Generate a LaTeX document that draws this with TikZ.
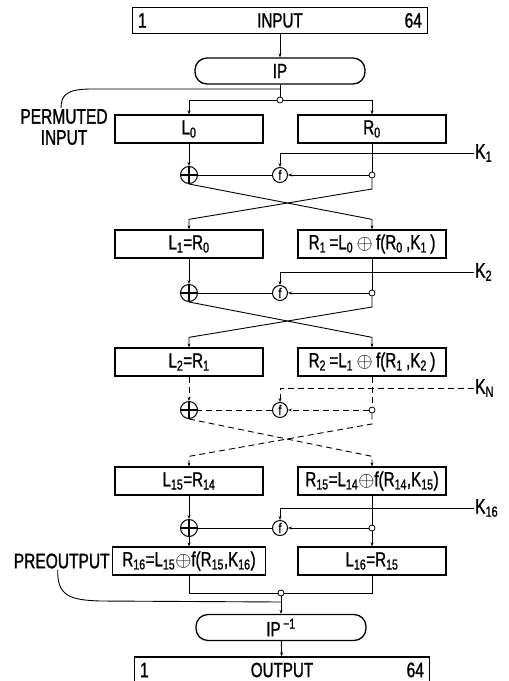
\documentclass[tikz,border=0pt]{standalone}
\usepackage{fontspec}
\setmainfont[FakeStretch=0.74,FakeBold=1.2]{Liberation Sans}
\usetikzlibrary{arrows.meta,calc,positioning}
\tikzset{
   every path/.style={>={Stealth[length=4pt,width=3pt]}},
   flow/.style={->,line width=0.9pt},
   wire/.style={line width=0.9pt},
   nflow/.style={->,line width=0.9pt,dash pattern=on 6pt off 4pt},
   nwire/.style={line width=0.9pt,dash pattern=on 6pt off 4pt},
}
\begin{document}
\begin{tikzpicture}[x=1pt,y=-1pt,
   lbl/.style={inner sep=1pt, font=\fontsize{21}{21}\selectfont},
   box/.style={rectangle, draw, line width=1.3pt, minimum width=148pt, minimum height=28pt, inner sep=0pt, font=\fontsize{20.5}{21}\selectfont},
   perm/.style={box, rounded corners=12pt, minimum width=170pt, minimum height=26pt},
   io/.style={box, minimum width=295pt, minimum height=26pt},
   xor/.style={circle, draw, line width=1pt, minimum size=17pt, inner sep=0pt},
   fn/.style={circle, draw, line width=1pt, minimum size=15pt, inner sep=0pt, font=\fontsize{14}{14}\selectfont},
   dot/.style={circle, draw, line width=0.8pt, minimum size=6pt, inner sep=0pt, fill=white}]
  \useasboundingbox (0,0) rectangle (509,681);

  % input and initial permutation
  \node [io] (input) at (280,20.5) {INPUT};
  \node [lbl, right=5pt of input.west] (in1) {1};
  \node [lbl, left=5pt of input.east] (in64) {64};
  \node [perm] (ip) at (280,71) {IP};
  \node [dot] (j0) at (280,100) {};
  \coordinate (pin) at (280,89);
  \node [lbl, align=center] (permin) at (64,127) {PERMUTED\\INPUT};

  \node [box] (l0) at (189,129) {L\textsubscript{0}};
  \node [box] (r0) at (372,129) {R\textsubscript{0}};

  \draw [flow] (input) -- (ip);
  \draw [wire] (ip) -- (j0);
  \draw [flow] (j0) -| (l0);
  \draw [flow] (j0) -| (r0);
  \draw [wire] ([xshift=-3pt]permin.north) .. controls (61,94) and (68,89) .. (92,89) -- (pin);

  % round 1
  \node [xor] (x1) at (189,175) {};
  \node [fn] (f1) at (280,175) {f};
  \node [dot] (d1) at (372,175) {};
  \node [lbl, anchor=west] (k1) at (474,153) {K\textsubscript{1}};
  \node [box] (l1) at (189,244) {L\textsubscript{1}=R\textsubscript{0}};
  \node [box] (r1) at (372,244) {R\textsubscript{1}\,=L\textsubscript{0}\,$\oplus$\,f(R\textsubscript{0}\,,K\textsubscript{1}\,)};
  \draw [flow] (l0) -- (x1);
  \draw [wire] (r0) -- (d1);
  \draw [flow] (d1) -- (f1);
  \draw [wire] (f1) -- (x1);
  \draw [flow] (k1.west) -| (f1);
  \draw [flow] (x1) -- ++(0,9) -- ([yshift=10pt]r1.north) -- (r1);
  \draw [flow] (d1) -- ++(0,14) -- ([yshift=10pt]l1.north) -- (l1);

  % round 2
  \node [xor] (x2) at (189,293) {};
  \node [fn] (f2) at (280,293) {f};
  \node [dot] (d2) at (372,293) {};
  \node [lbl, anchor=west] (k2) at (474,272) {K\textsubscript{2}};
  \node [box] (l2) at (189,362) {L\textsubscript{2}=R\textsubscript{1}};
  \node [box] (r2) at (372,362) {R\textsubscript{2}\,=L\textsubscript{1}\,$\oplus$\,f(R\textsubscript{1}\,,K\textsubscript{2}\,)};
  \draw [flow] (l1) -- (x2);
  \draw [wire] (r1) -- (d2);
  \draw [flow] (d2) -- (f2);
  \draw [wire] (f2) -- (x2);
  \draw [flow] (k2.west) -| (f2);
  \draw [flow] (x2) -- ++(0,9) -- ([yshift=10pt]r2.north) -- (r2);
  \draw [flow] (d2) -- ++(0,14) -- ([yshift=10pt]l2.north) -- (l2);

  % rounds 3 to 15
  \node [xor] (xn) at (189,410) {};
  \node [fn] (fn) at (280,410) {f};
  \node [dot] (dn) at (372,410) {};
  \node [lbl, anchor=west] (kn) at (474,388) {K\textsubscript{N}};
  \node [box] (l15) at (189,481) {L\textsubscript{15}=R\textsubscript{14}};
  \node [box] (r15) at (372,481) {R\textsubscript{15}=L\textsubscript{14}$\oplus$f(R\textsubscript{14},K\textsubscript{15})};
  \draw [nflow] (l2) -- (xn);
  \draw [nwire] (r2) -- (dn);
  \draw [nflow] (dn) -- (fn);
  \draw [nwire] (fn) -- (xn);
  \draw [nflow] (kn.west) -| (fn);
  \draw [nflow] (xn) -- ++(0,9) -- ([yshift=10pt]r15.north) -- (r15);
  \draw [nflow] (dn) -- ++(0,14) -- ([yshift=10pt]l15.north) -- (l15);

  % round 16
  \node [xor] (x16) at (189,528) {};
  \node [fn] (f16) at (280,528) {f};
  \node [dot] (d16) at (372,528) {};
  \node [lbl, anchor=west] (k16) at (474,508) {K\textsubscript{16}};
  \node [box, minimum width=153pt] (r16) at (189,561) {R\textsubscript{16}=L\textsubscript{15}$\oplus$f(R\textsubscript{15},K\textsubscript{16})};
  \node [box] (l16) at (372,561) {L\textsubscript{16}=R\textsubscript{15}};
  \node [lbl, left=1pt of r16] (preout) {PREOUTPUT};
  \draw [flow] (l15) -- (x16);
  \draw [wire] (r15) -- (d16);
  \draw [flow] (d16) -- (f16);
  \draw [wire] (f16) -- (x16);
  \draw [flow] (k16.west) -| (f16);
  \draw [flow] (x16) -- (r16);
  \draw [flow] (d16) -- (l16);

  \foreach \x in {x1,x2,xn,x16}
    \draw [line width=1.6pt] (\x.north) -- (\x.south) (\x.west) -- (\x.east);

  % output and inverse permutation
  \node [dot] (j17) at (281,593) {};
  \coordinate (pout) at (281,602);
  \node [perm] (ipinv) at (281,627.5) {IP\textsuperscript{\,−1}};
  \node [io] (output) at (282,670) {OUTPUT};
  \node [lbl, right=5pt of output.west] (out1) {1};
  \node [lbl, left=5pt of output.east] (out64) {64};
  \draw [wire] (r16) |- (j17);
  \draw [wire] (l16) |- (j17);
  \draw [flow] (j17) -- (ipinv);
  \draw [flow] (ipinv) -- (output);
  \draw [wire] ([xshift=-4pt]preout.south) .. controls (57,596) and (70,600) .. (100,601) -- (pout);
\end{tikzpicture}
\end{document}
